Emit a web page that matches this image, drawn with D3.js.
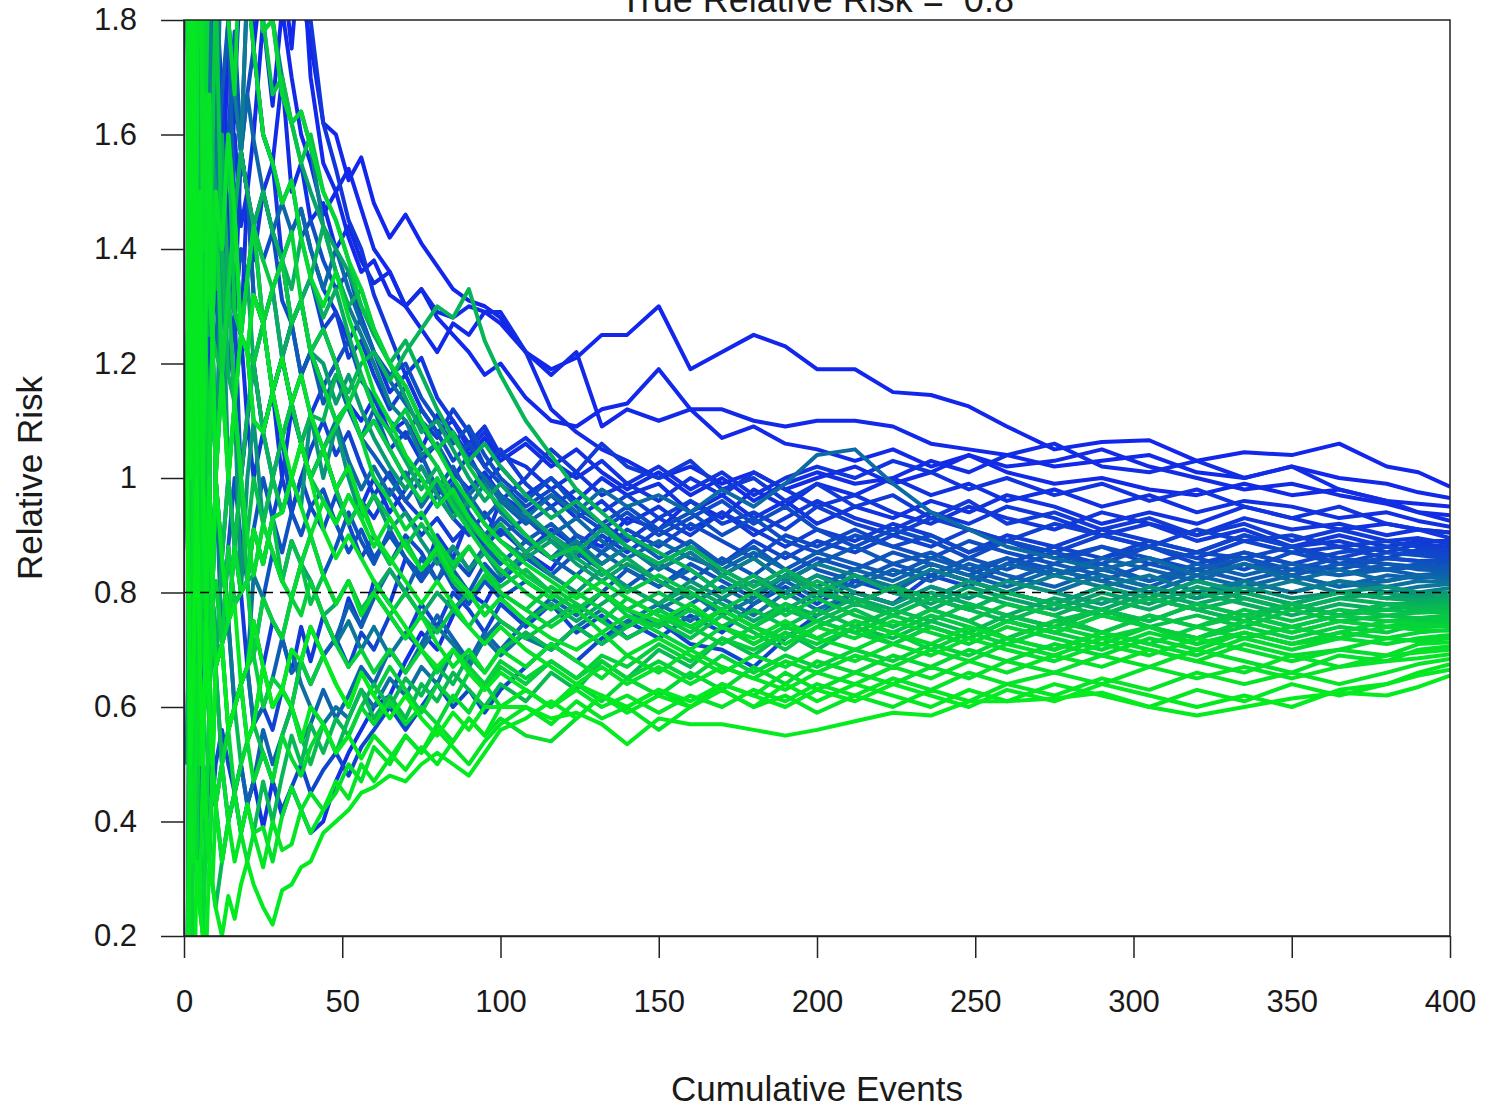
<!DOCTYPE html>
<html lang="en">
<head>
<meta charset="UTF-8">
<title>True Relative Risk</title>
<script src="https://d3js.org/d3.v7.min.js"></script>
<style>
  body { margin: 0; background: #fff; }
  text { font-family: "Liberation Sans", Arial, sans-serif; fill: #1a1a1a; }
</style>
</head>
<body>
<script>
// cumulative event counts at which each simulated trial was read off
const events = [1,2,3,4,5,6,7,8,9,10, 12,14,16,18,20,22, 25,28,31,34,37,40, 44,48,52,56,60,
  65,70,75,80,85,90,95,100, 108,116,124,132,140, 150,160,170,180,190,200,
  212,224,236,248,260, 275,290,305,320,335,350,365, 380,390,400];

// estimated relative risk per simulated trial
const rrRuns = [
  [2,3,1.5,2,2.5,2,1.67,2.2,2,2.33, 2.5,2.2,2.4,2.0,2.1,2.2, 2.0,1.9,2.05,1.95,1.85,1.76, 1.62,1.6,1.52,1.56,1.48, 1.42,1.46,1.41,1.37,1.33,1.31,1.30,1.28, 1.22,1.19,1.21,1.25,1.25, 1.30,1.19,1.22,1.25,1.23,1.19, 1.19,1.15,1.145,1.125,1.09, 1.05,1.063,1.066,1.03,1.045,1.04,1.06, 1.02,1.01,0.985],
  [0.5,1,2,1.5,1.67,2,1.33,1.67,2,1.5, 1.4,1.8,1.67,1.9,2.0,1.75, 1.9,2.1,1.9,1.75,1.95,1.7, 1.55,1.5,1.54,1.47,1.4, 1.36,1.30,1.33,1.28,1.25,1.22,1.18,1.20, 1.14,1.10,1.09,1.12,1.13, 1.19,1.12,1.12,1.10,1.09,1.10, 1.10,1.09,1.06,1.05,1.04, 1.02,1.03,1.04,1.01,1.0,1.02,1.0, 0.99,0.975,0.965],
  [1,0.5,1,1.33,1.5,1,1.33,1.67,1.25,1.5, 1.4,1.33,1.67,1.57,1.5,1.6, 1.8,1.65,1.82,1.7,1.6,1.55, 1.46,1.50,1.42,1.36,1.38, 1.32,1.30,1.26,1.22,1.27,1.25,1.29,1.27, 1.22,1.18,1.22,1.09,1.12, 1.10,1.12,1.07,1.09,1.06,1.05, 1.03,1.05,1.02,1.04,1.01, 0.99,1.0,0.98,0.97,0.99,0.97,0.98, 0.96,0.955,0.95],
  [3,2,1,2,1.5,1.2,1.8,1.6,1.25,1.5, 1.6,1.8,1.4,1.57,1.86,1.75, 1.6,1.55,1.7,1.5,1.55,1.45, 1.48,1.4,1.44,1.38,1.34, 1.36,1.30,1.33,1.29,1.28,1.30,1.29,1.29, 1.22,1.12,1.08,1.05,1.03, 1.0,1.02,0.99,1.01,0.98,1.0, 1.02,0.99,1.01,1.04,1.02, 1.03,1.05,1.02,1.0,0.98,0.99,0.97, 0.955,0.94,0.935],
  [0.5,1,0.67,1,1.5,2,1.33,1,1.25,1.5, 1.4,1.33,1.29,1.25,1.5,1.44, 1.27,1.15,1.21,1.27,1.31,1.22, 1.16,1.2,1.13,1.10,1.14, 1.08,1.10,1.05,1.11,1.08,1.04,1.07,1.03, 1.06,1.02,1.05,1.01,0.98, 1.01,0.97,1.0,0.96,0.99,1.01, 0.99,1.0,1.03,1.01,1.04, 1.06,1.02,1.01,1.03,1.0,1.02,0.98, 0.96,0.94,0.925],
  [0,0.5,0.33,0.67,0.5,0.5,0.4,0.6,0.5,0.43, 0.5,0.4,0.45,0.38,0.43,0.47, 0.39,0.47,0.41,0.46,0.42,0.38, 0.40,0.47,0.52,0.56,0.60, 0.62,0.68,0.73,0.70,0.76,0.80,0.78,0.83, 0.87,0.84,0.90,0.88,0.93, 0.91,0.96,0.93,0.98,0.95,0.99, 0.97,1.0,0.97,0.99,0.96, 0.98,0.95,0.97,0.94,0.96,0.95,0.93, 0.94,0.925,0.915],
  [2,1,3,1.5,1,1.4,1.2,1.33,1.57,1.33, 1.18,1.33,1.13,1.25,1.1,1.2, 1.08,1.15,1.0,1.12,1.06,1.0, 1.05,0.98,1.02,0.95,1.0, 0.94,0.98,1.02,0.97,1.0,1.04,0.99,1.02, 0.97,1.0,0.96,1.0,0.97, 0.99,0.94,0.97,0.93,0.96,0.92, 0.95,0.93,0.96,0.94,0.97, 0.95,0.92,0.94,0.92,0.95,0.93,0.91, 0.92,0.91,0.905],
  [1,2,1.5,3,2.33,2,1.67,2.5,2,1.67, 2,2.5,2.2,2.0,2.33,2.14, 2.1,1.95,1.82,1.9,2.0,1.8, 1.62,1.54,1.45,1.40,1.32, 1.25,1.18,1.21,1.14,1.10,1.06,1.09,1.04, 1.02,0.98,1.01,0.97,0.99, 0.96,1.0,0.97,1.01,0.98,0.95, 0.97,0.94,0.92,0.95,0.93, 0.91,0.94,0.92,0.90,0.93,0.91,0.92, 0.90,0.91,0.895],
  [0,0.5,1,0.67,1,1.33,1,0.75,0.8,1, 0.86,0.75,0.88,0.8,0.67,0.75, 0.67,0.75,0.72,0.66,0.74,0.68, 0.76,0.71,0.79,0.74,0.82, 0.78,0.86,0.82,0.9,0.86,0.93,0.89,0.96, 1.0,1.05,1.01,1.06,1.02, 1.0,1.03,0.98,1.0,0.96,0.99, 0.95,0.97,0.93,0.96,0.92, 0.94,0.91,0.93,0.90,0.92,0.89,0.91, 0.89,0.895,0.885],
  [3,2,1.5,1,1.5,1.4,1.33,1.67,1.25,1.0, 1.18,1.33,1.46,1.57,1.5,1.44, 1.5,1.43,1.38,1.27,1.31,1.35, 1.26,1.29,1.21,1.24,1.18, 1.12,1.16,1.10,1.07,1.12,1.08,1.02,1.05, 0.99,0.95,0.98,0.94,0.97, 0.93,0.96,0.92,0.94,0.91,0.95, 0.92,0.90,0.93,0.91,0.89, 0.92,0.90,0.88,0.91,0.89,0.90,0.88, 0.89,0.88,0.875],
  [1,0.5,0.33,0.67,0.5,0.75,0.6,0.6,0.8,0.67, 0.71,0.56,0.6,0.64,0.54,0.57, 0.6,0.56,0.63,0.6,0.68,0.64, 0.69,0.72,0.67,0.73,0.7, 0.76,0.72,0.78,0.74,0.8,0.77,0.73,0.78, 0.74,0.78,0.73,0.76,0.72, 0.75,0.71,0.70,0.67,0.72,0.76, 0.80,0.78,0.83,0.81,0.85, 0.88,0.86,0.89,0.87,0.90,0.88,0.86, 0.88,0.87,0.868],
  [2,1,0.5,1,1.5,1,1.33,1.67,1.25,1.0, 1.4,1.18,1.29,1.0,1.11,1.2, 1.08,1.0,1.07,0.94,1.0,0.95, 0.91,0.97,0.92,0.86,0.9, 0.85,0.9,0.87,0.82,0.86,0.83,0.88,0.85, 0.89,0.86,0.9,0.87,0.91, 0.88,0.92,0.89,0.86,0.9,0.88, 0.91,0.88,0.9,0.87,0.89, 0.86,0.88,0.85,0.87,0.86,0.88,0.85, 0.87,0.865,0.86],
  [1,3,2,1.5,1.67,1.33,2,1.67,1.5,1.75, 1.4,1.6,1.78,1.57,1.67,1.75, 1.6,1.55,1.48,1.52,1.42,1.45, 1.38,1.33,1.36,1.28,1.22, 1.18,1.2,1.14,1.1,1.06,1.09,1.04,1.0, 0.96,1.0,0.95,0.92,0.95, 0.91,0.94,0.9,0.93,0.89,0.87, 0.9,0.88,0.86,0.89,0.87, 0.85,0.88,0.86,0.84,0.87,0.85,0.84, 0.86,0.855,0.852],
  [0,1,0.5,0.33,0.67,0.5,0.75,1,0.8,0.67, 0.71,0.88,0.78,0.8,0.82,0.69, 0.79,0.87,0.82,0.89,0.85,0.9, 0.83,0.88,0.94,0.89,0.85, 0.91,0.86,0.83,0.88,0.84,0.8,0.85,0.82, 0.86,0.83,0.87,0.84,0.81, 0.85,0.82,0.86,0.83,0.87,0.84, 0.82,0.85,0.83,0.86,0.84, 0.87,0.84,0.86,0.83,0.85,0.83,0.85, 0.84,0.85,0.845],
  [3,1,2,3,1.5,2,1.33,1.67,2,1.5, 1.67,1.8,1.46,1.57,1.5,1.32, 1.27,1.33,1.21,1.27,1.18,1.22, 1.13,1.18,1.12,1.07,1.12, 1.05,1.0,1.04,0.98,1.02,0.97,0.93,0.96, 0.92,0.95,0.9,0.87,0.9, 0.86,0.89,0.85,0.88,0.84,0.87, 0.85,0.83,0.86,0.84,0.82, 0.85,0.83,0.81,0.84,0.82,0.84,0.83, 0.85,0.84,0.838],
  [0,0,0.5,0.33,0.25,0.5,0.4,0.33,0.5,0.43, 0.33,0.4,0.45,0.5,0.43,0.47, 0.56,0.5,0.55,0.6,0.54,0.57, 0.63,0.58,0.62,0.67,0.64, 0.7,0.66,0.71,0.76,0.72,0.68,0.73,0.7, 0.75,0.79,0.76,0.8,0.77, 0.74,0.78,0.81,0.78,0.82,0.79, 0.83,0.8,0.84,0.82,0.85, 0.83,0.86,0.84,0.82,0.85,0.83,0.81, 0.83,0.825,0.83],
  [1,2,1,0.67,1,1.4,1.67,1.33,1.25,1.5, 1.4,1.33,1.29,1.25,1.22,1.2, 1.27,1.15,1.21,1.13,1.06,1.11, 1.05,1.1,1.03,0.98,1.02, 0.97,1.01,0.95,0.99,0.94,0.97,1.0,0.96, 0.93,0.97,0.94,0.98,0.95, 0.97,0.94,0.98,0.95,0.99,1.04, 1.05,0.99,0.94,0.91,0.88, 0.86,0.84,0.86,0.83,0.85,0.82,0.84, 0.82,0.83,0.822],
  [0,0.5,1,0.67,0.25,0.5,0.75,0.6,0.8,1, 0.71,0.75,0.6,0.64,0.67,0.83, 0.79,0.75,0.72,0.79,0.85,0.82, 0.76,0.71,0.75,0.7,0.74, 0.69,0.73,0.7,0.74,0.71,0.67,0.72,0.75, 0.72,0.7,0.74,0.77,0.74, 0.77,0.8,0.76,0.79,0.83,0.8, 0.78,0.81,0.79,0.82,0.8, 0.78,0.81,0.83,0.8,0.82,0.8,0.82, 0.8,0.81,0.815],
  [1,1,2,1,1.5,2,2.5,2,1.25,1.5, 2,1.8,1.67,1.57,1.86,2.14, 2.0,1.8,1.7,1.62,1.64,1.58, 1.44,1.36,1.3,1.25,1.2, 1.13,1.1,1.04,1.06,1.0,0.95,0.99,0.94, 0.9,0.86,0.89,0.85,0.88, 0.84,0.87,0.83,0.86,0.82,0.85, 0.83,0.81,0.84,0.82,0.8, 0.83,0.81,0.79,0.82,0.8,0.82,0.8, 0.79,0.8,0.808],
  [2,0,1,2,1.5,1,0.75,1,0.8,1, 1.4,1,1.13,0.8,1.0,1.1, 0.92,1.0,0.94,1.0,0.95,1.11, 1.0,1.09,1.0,0.93,0.97, 0.91,0.94,0.89,0.85,0.88,0.84,0.87,0.83, 0.87,0.83,0.8,0.84,0.81, 0.78,0.82,0.79,0.82,0.8,0.83, 0.8,0.78,0.81,0.79,0.82, 0.8,0.78,0.81,0.79,0.81,0.79,0.8, 0.81,0.8,0.80],
  [3,3,2,1.5,2.33,3,2.5,3,2.33,1.86, 2,2.5,2.2,2.0,1.86,2.14, 1.78,1.8,1.67,1.62,1.55,1.5, 1.44,1.4,1.36,1.3,1.25, 1.2,1.14,1.08,1.1,1.05,1.0,0.96,0.99, 0.94,0.9,0.87,0.91,0.88, 0.85,0.88,0.84,0.81,0.84,0.8, 0.83,0.8,0.78,0.81,0.79, 0.77,0.8,0.78,0.81,0.79,0.77,0.79, 0.8,0.79,0.793],
  [0.5,1,0.67,1,1.5,1.33,1.67,1.25,1.5,1.33, 1.6,1.33,1.46,1.25,1.35,1.2, 1.27,1.33,1.21,1.27,1.31,1.35, 1.28,1.33,1.25,1.18,1.12, 1.08,1.03,0.98,1.02,0.96,0.92,0.89,0.92, 0.87,0.9,0.86,0.83,0.86, 0.82,0.79,0.83,0.8,0.77,0.8, 0.78,0.81,0.77,0.8,0.78, 0.76,0.79,0.77,0.8,0.78,0.76,0.78, 0.77,0.78,0.786],
  [1,2,3,1.5,1,1.4,1.2,1.0,1.25,1.5, 1.4,1.18,1.13,1.0,1.11,1.2, 1.08,1.0,1.07,1.13,1.06,1.11, 1.1,1.18,1.15,1.2,1.22, 1.17,1.22,1.26,1.3,1.28,1.33,1.24,1.18, 1.1,1.04,0.98,0.94,0.9, 0.87,0.84,0.8,0.83,0.79,0.82, 0.79,0.76,0.79,0.77,0.8, 0.78,0.76,0.79,0.77,0.75,0.78,0.76, 0.78,0.775,0.78],
  [0,0.5,0.33,0.67,1,0.75,0.6,0.6,0.5,0.67, 0.5,0.56,0.6,0.5,0.54,0.57, 0.52,0.47,0.55,0.6,0.55,0.5, 0.57,0.52,0.58,0.63,0.58, 0.62,0.58,0.64,0.61,0.66,0.63,0.6,0.64, 0.61,0.66,0.63,0.68,0.65, 0.7,0.67,0.72,0.69,0.73,0.7, 0.74,0.72,0.75,0.73,0.76, 0.74,0.77,0.75,0.78,0.76,0.78,0.76, 0.78,0.77,0.773],
  [2,1,1,1.5,1,0.75,1,0.75,0.8,1, 0.86,1,0.88,1,0.82,0.91, 0.85,0.93,0.82,0.89,0.85,0.78, 0.83,0.78,0.82,0.77,0.8, 0.76,0.8,0.76,0.73,0.77,0.74,0.78,0.75, 0.72,0.75,0.78,0.75,0.72, 0.75,0.72,0.76,0.73,0.7,0.74, 0.77,0.74,0.77,0.75,0.72, 0.75,0.77,0.74,0.76,0.74,0.77,0.75, 0.76,0.765,0.766],
  [3,2,3,2,2.5,2,2.5,3,2.33,2, 2.5,2.2,2.0,1.86,2.0,1.93, 1.8,1.67,1.7,1.62,1.55,1.6, 1.5,1.45,1.38,1.3,1.26, 1.2,1.16,1.1,1.05,1.08,1.02,0.98,0.95, 0.9,0.86,0.88,0.84,0.8, 0.83,0.8,0.77,0.8,0.76,0.79, 0.76,0.74,0.77,0.75,0.78, 0.76,0.73,0.76,0.74,0.77,0.75,0.77, 0.76,0.755,0.76],
  [1,0.5,1,1,1.5,1.4,1.67,1.33,1.57,1.86, 1.4,1.6,1.29,1.25,1.22,1.2, 1.27,1.15,1.07,1.13,1.06,1.0, 1.05,0.98,0.92,0.96,0.9, 0.85,0.89,0.84,0.87,0.82,0.79,0.83,0.8, 0.77,0.81,0.78,0.75,0.79, 0.76,0.73,0.77,0.74,0.78,0.75, 0.73,0.76,0.74,0.72,0.75, 0.73,0.76,0.74,0.72,0.75,0.73,0.75, 0.74,0.75,0.753],
  [0,1,0.5,0.33,0.67,0.5,0.4,0.6,0.5,0.67, 0.71,0.56,0.6,0.64,0.67,0.69, 0.6,0.65,0.63,0.6,0.68,0.64, 0.69,0.64,0.6,0.66,0.62, 0.67,0.63,0.59,0.64,0.61,0.66,0.63,0.67, 0.64,0.68,0.65,0.69,0.67, 0.71,0.68,0.72,0.7,0.73,0.71, 0.74,0.71,0.74,0.72,0.75, 0.73,0.76,0.74,0.72,0.75,0.73,0.75, 0.74,0.745,0.746],
  [1,2,1,0.67,1,1.4,1.2,1,1.25,1.5, 1.18,1.33,1.46,1.25,1.35,1.44, 1.27,1.33,1.38,1.43,1.31,1.22, 1.16,1.1,1.13,1.07,1.0, 0.96,0.91,0.94,0.89,0.85,0.88,0.84,0.8, 0.77,0.74,0.77,0.73,0.76, 0.73,0.7,0.74,0.71,0.74,0.72, 0.75,0.73,0.7,0.73,0.71, 0.74,0.72,0.74,0.71,0.73,0.71,0.73, 0.75,0.745,0.74],
  [0,0,0.5,0.33,0.25,0.2,0.4,0.6,0.5,0.43, 0.5,0.56,0.45,0.5,0.54,0.47, 0.52,0.47,0.55,0.51,0.48,0.53, 0.57,0.52,0.55,0.6,0.57, 0.61,0.57,0.6,0.57,0.62,0.59,0.64,0.6, 0.63,0.6,0.64,0.61,0.65, 0.62,0.66,0.63,0.67,0.64,0.68, 0.66,0.69,0.67,0.7,0.68, 0.71,0.69,0.72,0.7,0.73,0.71,0.72, 0.74,0.735,0.733],
  [1,3,2,3,2.33,1.4,2.5,2,2.33,2.33, 2,1.8,1.67,2.0,1.86,1.75, 1.6,1.55,1.48,1.52,1.42,1.35, 1.3,1.36,1.28,1.22,1.15, 1.1,1.04,1.0,0.95,0.98,0.93,0.89,0.86, 0.82,0.79,0.83,0.8,0.77, 0.75,0.78,0.74,0.72,0.75,0.72, 0.7,0.73,0.71,0.74,0.72, 0.7,0.73,0.71,0.69,0.72,0.7,0.72, 0.71,0.72,0.726],
  [2,1,1,1,0.67,1,0.75,1,1.25,1, 1.18,1,1.13,1.0,0.9,0.83, 0.92,0.87,0.82,0.79,0.85,0.9, 0.83,0.78,0.82,0.76,0.8, 0.76,0.72,0.76,0.71,0.67,0.7,0.66,0.7, 0.67,0.71,0.68,0.65,0.69, 0.66,0.7,0.67,0.65,0.68,0.66, 0.69,0.67,0.7,0.68,0.71, 0.69,0.72,0.7,0.68,0.71,0.69,0.7, 0.72,0.715,0.72],
  [1,0.5,1,1.5,1,1,0.75,0.6,0.8,0.67, 0.71,0.75,0.88,0.8,0.82,0.91, 0.85,0.93,0.94,1.0,0.95,0.9, 0.96,0.92,0.97,0.93,0.88, 0.93,0.88,0.84,0.88,0.83,0.8,0.76,0.79, 0.75,0.72,0.7,0.73,0.69, 0.72,0.69,0.66,0.69,0.67,0.7, 0.68,0.71,0.69,0.72,0.7, 0.68,0.71,0.69,0.72,0.7,0.68,0.7, 0.69,0.71,0.713],
  [0,0.5,0.33,0.67,0.5,0.5,0.4,0.33,0.5,0.43, 0.5,0.4,0.45,0.38,0.33,0.38, 0.39,0.33,0.41,0.46,0.42,0.45, 0.42,0.45,0.5,0.47,0.53, 0.5,0.55,0.52,0.57,0.54,0.58,0.55,0.58, 0.55,0.54,0.58,0.62,0.6, 0.63,0.6,0.64,0.62,0.66,0.63, 0.66,0.64,0.67,0.65,0.68, 0.66,0.69,0.67,0.7,0.68,0.66,0.69, 0.68,0.7,0.706],
  [2,1,2,1.5,2.33,1.4,1.67,1.33,1.25,1.5, 1.4,1.6,1.46,1.25,1.22,1.32, 1.27,1.15,1.21,1.13,1.18,1.11, 1.05,0.98,1.02,0.95,0.9, 0.86,0.82,0.78,0.82,0.78,0.74,0.71,0.74, 0.7,0.67,0.64,0.67,0.64, 0.67,0.64,0.67,0.65,0.63,0.66, 0.64,0.67,0.65,0.68,0.66, 0.69,0.67,0.7,0.68,0.66,0.69,0.67, 0.69,0.695,0.70],
  [1,2,1,1,1.5,1,1.33,1.67,1.25,1.0, 1.18,1.0,1.13,1.25,1.22,1.1, 1.08,1.15,1.07,1.0,1.06,1.0, 0.91,0.86,0.9,0.86,0.82, 0.78,0.74,0.7,0.67,0.7,0.66,0.63,0.66, 0.63,0.6,0.63,0.6,0.62, 0.59,0.62,0.6,0.63,0.61,0.64, 0.62,0.65,0.63,0.66,0.64, 0.66,0.64,0.67,0.65,0.67,0.65,0.67, 0.68,0.685,0.692],
  [0,0.5,0.33,0.33,0.25,0.5,0.4,0.33,0.29,0.43, 0.33,0.4,0.33,0.38,0.43,0.38, 0.32,0.4,0.35,0.36,0.42,0.38, 0.42,0.47,0.44,0.5,0.47, 0.51,0.55,0.52,0.56,0.53,0.5,0.54,0.57, 0.6,0.57,0.61,0.58,0.6, 0.56,0.6,0.63,0.6,0.62,0.59, 0.62,0.6,0.63,0.61,0.64, 0.62,0.65,0.63,0.66,0.64,0.66,0.64, 0.66,0.675,0.684],
  [1,1,2,1,1.5,1,0.75,1,0.8,1, 0.86,0.75,0.78,0.64,0.67,0.75, 0.67,0.6,0.63,0.6,0.54,0.6, 0.57,0.52,0.55,0.51,0.55, 0.52,0.49,0.53,0.5,0.54,0.58,0.55,0.6, 0.63,0.6,0.64,0.62,0.59, 0.62,0.6,0.63,0.6,0.64,0.61, 0.64,0.62,0.6,0.63,0.61, 0.64,0.62,0.6,0.63,0.61,0.64,0.62, 0.64,0.66,0.675],
  [0,0,0,0.33,0.25,0.2,0.17,0.33,0.29,0.25, 0.2,0.27,0.23,0.29,0.33,0.29, 0.25,0.22,0.28,0.29,0.32,0.33, 0.38,0.4,0.42,0.45,0.46, 0.48,0.47,0.5,0.52,0.5,0.48,0.52,0.56, 0.58,0.61,0.58,0.62,0.6, 0.63,0.61,0.64,0.62,0.6,0.63, 0.61,0.64,0.62,0.6,0.63, 0.61,0.64,0.62,0.6,0.62,0.6,0.63, 0.64,0.655,0.665],
  [1,0.5,0.67,1,0.67,0.5,0.75,0.6,0.5,0.67, 0.71,0.56,0.6,0.64,0.54,0.57, 0.67,0.6,0.63,0.7,0.68,0.74, 0.69,0.64,0.6,0.66,0.62, 0.58,0.62,0.58,0.55,0.59,0.56,0.6,0.6, 0.6,0.58,0.59,0.57,0.535, 0.58,0.57,0.57,0.56,0.55,0.56, 0.575,0.59,0.585,0.61,0.61, 0.615,0.625,0.6,0.585,0.6,0.615,0.625, 0.62,0.635,0.655],
  [1,1,2,1.5,1.5,1.33,1.67,2,1.57,1.86, 1.67,1.43,1.6,1.44,1.5,1.38, 1.5,1.55,1.38,1.43,1.47,1.4, 1.33,1.29,1.24,1.28,1.22, 1.15,1.18,1.12,1.08,1.1,1.05,1.08,1.04, 1.07,1.03,1.0,1.03,0.99, 1.02,0.98,1.01,0.97,1.0,1.02, 1.0,1.03,1.01,0.98,1.0, 0.97,0.99,0.96,0.98,0.95,0.93,0.95, 0.92,0.91,0.905],
  [0,0,0.5,1,0.67,1,0.75,1,1.25,1, 0.86,1,0.88,1,1.1,1.0, 1.08,1.15,1.07,1.13,1.18,1.11, 1.16,1.1,1.13,1.07,1.1, 1.05,1.08,1.03,1.06,1.01,0.98,1.01,0.97, 0.94,0.97,0.93,0.96,0.92, 0.95,0.91,0.94,0.9,0.93,0.96, 0.93,0.91,0.94,0.92,0.95, 0.93,0.9,0.92,0.89,0.91,0.88,0.9, 0.88,0.89,0.89],
  [1,0.5,1,1,1.5,1.4,1,1.33,1.57,1.33, 1.18,1.33,1.29,1.57,1.5,1.32, 1.27,1.15,1.21,1.13,1.06,1.0, 1.05,0.98,0.92,0.96,0.93, 0.98,0.94,0.9,0.93,0.89,0.92,0.88,0.91, 0.87,0.91,0.88,0.92,0.89, 0.93,0.9,0.94,0.91,0.88,0.91, 0.89,0.92,0.9,0.87,0.9, 0.88,0.91,0.89,0.87,0.9,0.88,0.89, 0.87,0.885,0.88],
  [2,1,1,0.67,0.5,0.75,0.6,0.8,0.8,0.67, 0.86,0.75,0.78,0.8,0.82,0.91, 0.85,0.93,1.0,0.94,1.0,1.05, 1.1,1.04,1.08,1.02,0.97, 1.01,0.96,0.93,0.97,0.93,0.9,0.94,0.9, 0.93,0.89,0.86,0.9,0.87, 0.91,0.88,0.85,0.89,0.86,0.89, 0.87,0.9,0.88,0.91,0.89, 0.87,0.9,0.88,0.86,0.89,0.87,0.88, 0.86,0.875,0.872],
  [0,0.5,0.33,0.33,0.5,0.5,0.4,0.5,0.43,0.5, 0.56,0.5,0.45,0.5,0.43,0.47, 0.52,0.47,0.42,0.46,0.5,0.45, 0.49,0.52,0.48,0.53,0.56, 0.6,0.56,0.6,0.64,0.6,0.63,0.59,0.63, 0.67,0.71,0.68,0.72,0.75, 0.72,0.76,0.73,0.78,0.81,0.78, 0.82,0.8,0.84,0.82,0.85, 0.83,0.86,0.88,0.85,0.87,0.85,0.87, 0.88,0.87,0.865],
  [3,2,1.5,1.5,1.5,2,1.67,1.33,1.57,1.5, 1.33,1.44,1.29,1.4,1.35,1.44, 1.38,1.43,1.31,1.27,1.18,1.22, 1.26,1.2,1.24,1.17,1.14, 1.1,1.07,1.12,1.08,1.03,1.06,1.02,0.99, 0.95,0.98,0.94,0.91,0.94, 0.9,0.93,0.96,0.92,0.95,0.91, 0.88,0.91,0.89,0.86,0.89, 0.87,0.85,0.88,0.86,0.84,0.87,0.85, 0.86,0.855,0.857],
  [1,1,0.5,0.67,1,1,1.33,1,0.8,0.67, 0.71,0.88,1.0,0.89,0.82,0.91, 1.0,0.93,0.87,0.94,0.9,0.95, 0.98,0.92,0.87,0.91,0.86, 0.9,0.86,0.82,0.86,0.81,0.78,0.82,0.79, 0.82,0.79,0.83,0.8,0.84, 0.81,0.85,0.82,0.79,0.83,0.86, 0.84,0.87,0.85,0.83,0.86, 0.84,0.82,0.85,0.83,0.86,0.84,0.86, 0.85,0.845,0.848],
  [2,3,2,1,1.5,1.4,1.33,1.67,1.25,1.22, 1.4,1.33,1.46,1.25,1.22,1.1, 1.08,1.15,1.21,1.13,1.18,1.22, 1.16,1.2,1.13,1.07,1.04, 1.0,0.96,1.0,0.95,0.99,0.94,0.9,0.93, 0.89,0.92,0.88,0.85,0.88, 0.84,0.87,0.83,0.86,0.82,0.85, 0.88,0.85,0.87,0.84,0.86, 0.83,0.85,0.82,0.84,0.86,0.83,0.85, 0.84,0.845,0.842],
  [0,1,0.5,1,0.67,0.75,1,0.75,0.8,0.67, 0.71,0.75,0.6,0.64,0.67,0.57, 0.6,0.65,0.72,0.66,0.68,0.74, 0.69,0.72,0.78,0.74,0.79, 0.84,0.8,0.86,0.82,0.88,0.84,0.88,0.85, 0.89,0.86,0.83,0.87,0.84, 0.81,0.84,0.8,0.83,0.8,0.83, 0.81,0.84,0.82,0.85,0.83, 0.81,0.84,0.82,0.85,0.83,0.85,0.83, 0.84,0.83,0.835],
  [1,2,1,1.5,1.5,1.4,1.2,1.33,1.25,1.22, 1.4,1.33,1.46,1.57,1.67,1.59, 1.5,1.43,1.48,1.43,1.47,1.4, 1.33,1.4,1.33,1.27,1.22, 1.17,1.13,1.09,1.05,1.08,1.03,1.0,0.97, 0.93,0.9,0.93,0.89,0.86, 0.89,0.86,0.84,0.87,0.84,0.81, 0.84,0.82,0.85,0.83,0.81, 0.84,0.82,0.8,0.83,0.81,0.83,0.81, 0.82,0.83,0.826],
  [0,0,0.5,0.33,0.67,0.5,0.75,0.6,0.8,0.67, 0.5,0.56,0.6,0.64,0.67,0.57, 0.67,0.6,0.63,0.7,0.64,0.6, 0.57,0.6,0.58,0.63,0.6, 0.65,0.62,0.67,0.64,0.7,0.67,0.72,0.69, 0.73,0.7,0.74,0.71,0.75, 0.78,0.75,0.79,0.76,0.8,0.77, 0.8,0.78,0.81,0.79,0.82, 0.8,0.83,0.81,0.79,0.82,0.8,0.82, 0.81,0.82,0.818],
  [1,1,1,1,1.5,1,1.33,1.67,1.57,1.5, 1.4,1.33,1.29,1.25,1.22,1.32, 1.27,1.33,1.38,1.27,1.31,1.22, 1.2,1.13,1.18,1.12,1.07, 1.02,0.98,1.02,0.97,0.93,0.96,0.92,0.89, 0.86,0.89,0.85,0.82,0.85, 0.82,0.79,0.83,0.8,0.83,0.8, 0.78,0.81,0.79,0.82,0.8, 0.78,0.81,0.79,0.82,0.8,0.78,0.8, 0.79,0.795,0.80],
  [0,0.5,0.67,0.67,0.67,0.5,0.75,0.6,0.8,0.67, 0.86,0.75,0.88,0.8,0.82,0.83, 0.92,0.87,0.82,0.79,0.85,0.82, 0.76,0.78,0.82,0.77,0.8, 0.84,0.8,0.76,0.8,0.77,0.8,0.76,0.79, 0.75,0.78,0.75,0.78,0.81, 0.78,0.81,0.78,0.75,0.78,0.76, 0.79,0.77,0.8,0.78,0.76, 0.79,0.77,0.8,0.78,0.8,0.78,0.8, 0.79,0.785,0.79],
  [3,1,2,1,1.5,2,1.67,1.33,1.25,1.5, 1.4,1.6,1.46,1.57,1.5,1.44, 1.5,1.43,1.38,1.33,1.42,1.35, 1.44,1.36,1.3,1.33,1.26, 1.2,1.24,1.18,1.12,1.07,1.03,1.06,1.02, 0.97,0.93,0.96,0.92,0.88, 0.85,0.88,0.84,0.81,0.84,0.81, 0.78,0.81,0.79,0.77,0.8, 0.78,0.76,0.79,0.77,0.79,0.77,0.79, 0.78,0.78,0.782],
  [0,0.5,0.33,0.33,0.25,0.2,0.4,0.33,0.29,0.25, 0.33,0.4,0.45,0.38,0.43,0.38, 0.47,0.4,0.48,0.55,0.5,0.57, 0.52,0.58,0.55,0.6,0.64, 0.6,0.65,0.62,0.67,0.64,0.69,0.66,0.7, 0.73,0.7,0.74,0.71,0.74, 0.77,0.74,0.77,0.74,0.77,0.75, 0.78,0.76,0.79,0.77,0.75, 0.78,0.76,0.79,0.77,0.75,0.78,0.76, 0.78,0.77,0.776],
  [1,1,2,1.5,1,1,1.33,1.33,1.25,1.22, 1.18,1.0,1.13,1.0,0.9,1.0, 0.92,1.0,0.94,1.0,1.06,1.0, 0.96,0.92,0.97,0.93,0.97, 0.93,0.88,0.92,0.88,0.84,0.88,0.84,0.81, 0.84,0.8,0.77,0.8,0.77, 0.8,0.77,0.74,0.77,0.74,0.77, 0.74,0.77,0.75,0.78,0.76, 0.74,0.77,0.75,0.78,0.76,0.74,0.76, 0.77,0.765,0.768],
  [2,1,1,1,1.5,1.4,1,0.75,0.8,1, 1.18,1.33,1.13,1.25,1.35,1.44, 1.38,1.33,1.38,1.27,1.31,1.22, 1.26,1.2,1.13,1.18,1.12, 1.08,1.12,1.06,1.02,0.97,0.93,0.9,0.87, 0.83,0.8,0.77,0.8,0.76, 0.74,0.77,0.74,0.71,0.74,0.72, 0.75,0.73,0.76,0.74,0.72, 0.75,0.73,0.76,0.74,0.76,0.74,0.76, 0.75,0.755,0.76],
  [0,0,0.5,0.67,0.67,0.75,0.6,0.6,0.8,0.82, 0.71,0.75,0.78,0.8,0.82,0.91, 0.85,0.93,0.94,1.0,1.06,1.0, 1.05,1.09,1.13,1.07,1.1, 1.05,1.0,0.96,1.0,0.95,0.91,0.87,0.84, 0.8,0.77,0.8,0.77,0.74, 0.77,0.74,0.71,0.74,0.72,0.75, 0.73,0.71,0.74,0.72,0.75, 0.73,0.71,0.74,0.72,0.74,0.72,0.74, 0.73,0.745,0.75],
  [1,1,0.5,0.67,0.67,0.75,0.6,0.8,0.8,0.82, 0.71,0.88,0.78,0.8,0.82,0.69, 0.79,0.75,0.72,0.79,0.76,0.82, 0.76,0.71,0.67,0.7,0.66, 0.7,0.66,0.7,0.66,0.7,0.67,0.64,0.68, 0.65,0.68,0.65,0.68,0.65, 0.68,0.65,0.69,0.66,0.69,0.67, 0.7,0.68,0.71,0.69,0.72, 0.7,0.73,0.71,0.74,0.72,0.74,0.72, 0.74,0.74,0.742],
  [3,2,3,3,2.33,2,1.67,2,2.33,2.33, 2.5,2.2,2.2,2.0,1.86,1.93, 1.78,1.8,1.67,1.62,1.64,1.58, 1.5,1.45,1.38,1.33,1.26, 1.2,1.16,1.1,1.05,1.0,0.96,0.92,0.89, 0.85,0.82,0.79,0.82,0.79, 0.76,0.74,0.77,0.74,0.71,0.74, 0.72,0.75,0.73,0.71,0.74, 0.72,0.7,0.73,0.71,0.73,0.71,0.73, 0.72,0.73,0.735]
];

const xTicks = [0, 50, 100, 150, 200, 250, 300, 350, 400];
const yTicks = [0.2, 0.4, 0.6, 0.8, 1.0, 1.2, 1.4, 1.6, 1.8];
const yTickLabels = ["0.2", "0.4", "0.6", "0.8", "1", "1.2", "1.4", "1.6", "1.8"];
const trueRR = 0.8;

const W = 1493, H = 1107;
const plotLeft = 184, plotRight = 1450, plotTop = 20, plotBottom = 936;

const svg = d3.select("body")
    .append("svg")
    .attr("width", W)
    .attr("height", H);

const x = d3.scaleLinear().domain([0, 400]).range([plotLeft, plotRight]);
const y = d3.scaleLinear().domain([0.2, 1.8]).range([plotBottom, plotTop]);

svg.append("defs").append("clipPath").attr("id", "plotclip")
    .append("rect")
    .attr("x", plotLeft).attr("y", plotTop)
    .attr("width", plotRight - plotLeft).attr("height", plotBottom - plotTop);

// rank trials by their last estimate: blue = ends high, green = ends low
const ranked = d3.sort(rrRuns, (a, b) => d3.descending(a[a.length - 1], b[b.length - 1]));
const ramp = d3.interpolateRgb("#1226ec", "#04ec1e");
// keep the teal middle narrow, most runs read as plain blue or plain green
const colour = t => {
    const u = 2 * t - 1;
    return ramp(0.5 + 0.5 * Math.sign(u) * Math.pow(Math.abs(u), 0.55));
};

const line = d3.line()
    .x((d, i) => x(events[i]))
    .y(d => y(d));

svg.append("g")
    .attr("clip-path", "url(#plotclip)")
    .selectAll("path")
    .data(ranked)
    .join("path")
    .attr("d", line)
    .attr("fill", "none")
    .attr("stroke", (d, i) => colour(i / (ranked.length - 1)))
    .attr("stroke-width", 4)
    .attr("stroke-linejoin", "round");

svg.append("line")
    .attr("x1", plotLeft).attr("x2", plotRight)
    .attr("y1", y(trueRR)).attr("y2", y(trueRR))
    .attr("stroke", "#000")
    .attr("stroke-width", 1.4)
    .attr("stroke-dasharray", "9,7");

// frame
svg.append("rect")
    .attr("x", plotLeft).attr("y", plotTop)
    .attr("width", plotRight - plotLeft).attr("height", plotBottom - plotTop)
    .attr("fill", "none")
    .attr("stroke", "#222")
    .attr("stroke-width", 1.5);

const yAxis = svg.append("g")
    .attr("transform", `translate(${plotLeft},0)`)
    .call(d3.axisLeft(y)
        .tickValues(yTicks)
        .tickFormat((d, i) => yTickLabels[i])
        .tickSize(23)
        .tickSizeOuter(0)
        .tickPadding(24));

const xAxis = svg.append("g")
    .attr("transform", `translate(0,${plotBottom})`)
    .call(d3.axisBottom(x)
        .tickValues(xTicks)
        .tickSize(22)
        .tickSizeOuter(0)
        .tickPadding(32));

[yAxis, xAxis].forEach(g => {
    g.select(".domain").attr("stroke", "#222").attr("stroke-width", 1.5);
    g.selectAll(".tick line").attr("stroke", "#222").attr("stroke-width", 1.5);
    g.selectAll(".tick text")
        .attr("font-size", 31)
        .attr("font-family", "'Liberation Sans', Arial, sans-serif")
        .attr("fill", "#1a1a1a");
});

svg.append("text")
    .attr("x", (plotLeft + plotRight) / 2)
    .attr("y", 12)
    .attr("text-anchor", "middle")
    .attr("font-size", 36)
    .style("white-space", "pre")
    .text("True Relative Risk =  0.8");

svg.append("text")
    .attr("x", (plotLeft + plotRight) / 2)
    .attr("y", 1101)
    .attr("text-anchor", "middle")
    .attr("font-size", 35)
    .text("Cumulative Events");

svg.append("text")
    .attr("transform", `translate(42,${(plotTop + plotBottom) / 2}) rotate(-90)`)
    .attr("text-anchor", "middle")
    .attr("font-size", 35)
    .text("Relative Risk");
</script>
</body>
</html>
